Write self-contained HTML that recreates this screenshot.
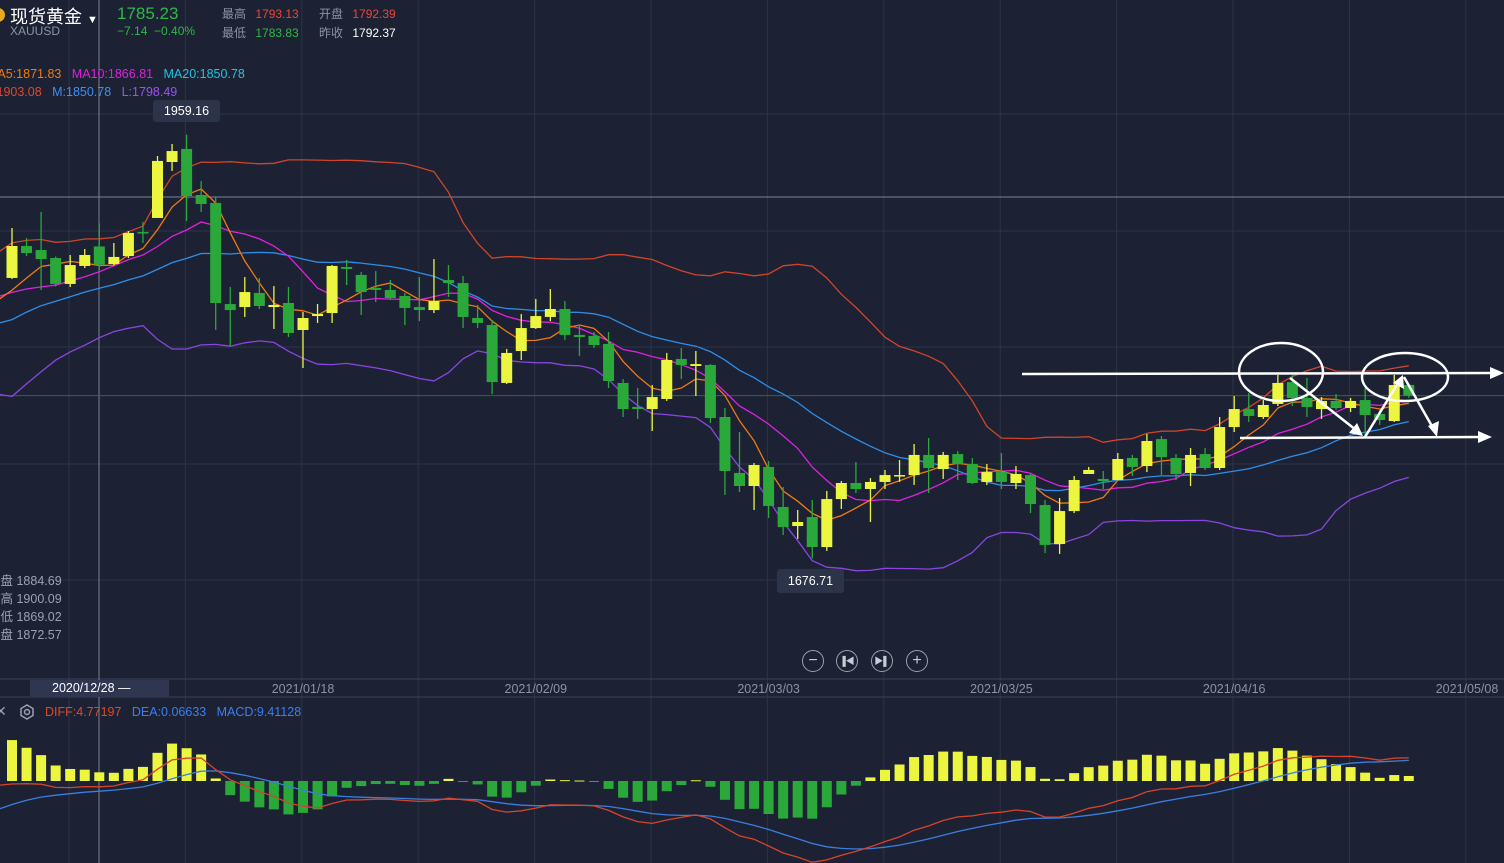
<!DOCTYPE html>
<html><head><meta charset="utf-8">
<style>
html,body{margin:0;padding:0;background:#1c2233;overflow:hidden}
body{width:1504px;height:863px;position:relative;font-family:"Liberation Sans","Noto Sans CJK SC",sans-serif}
.t{position:absolute;white-space:nowrap}
</style></head>
<body>
<svg id="chart" width="1504" height="863" style="position:absolute;left:0;top:0">
<g id="grid"></g>
<g id="price"></g>
<g id="macd"></g>
<g id="anno" stroke="#ffffff" fill="none" stroke-width="2.5">
 <line x1="1022" y1="374" x2="1494" y2="373"/><polygon points="1504,373 1490,367 1490,379" fill="#fff" stroke="none"/>
 <line x1="1240" y1="438" x2="1482" y2="437"/><polygon points="1492,437 1478,431 1478,443" fill="#fff" stroke="none"/>
 <ellipse cx="1281" cy="372" rx="42" ry="29"/>
 <ellipse cx="1405" cy="377" rx="43" ry="24"/>
 <line x1="1290" y1="378" x2="1356" y2="430"/><polygon points="1363,436 1349,433 1357,423" fill="#fff" stroke="none"/>
 <line x1="1365" y1="437" x2="1398" y2="383"/><polygon points="1403,375 1404,389 1393,383" fill="#fff" stroke="none"/>
 <line x1="1404" y1="377" x2="1433" y2="428"/><polygon points="1437,437 1428,426 1439,421" fill="#fff" stroke="none"/>
</g>
</svg>

<div class="t" style="left:-9px;top:8px;width:14px;height:14px;border-radius:50%;background:#e9a820"></div>
<div class="t" style="left:10px;top:3px;font-size:18px;color:#fff">现货黄金 <span style="font-size:11px">▼</span></div>
<div class="t" style="left:10px;top:24px;font-size:12px;color:#8b93a6">XAUUSD</div>
<div class="t" style="left:117px;top:4px;font-size:17px;color:#2fb845">1785.23</div>
<div class="t" style="left:117px;top:24px;font-size:12px;color:#2fb845">−7.14 &nbsp;−0.40%</div>
<div class="t" style="left:222px;top:5px;font-size:12px;color:#8b93a6">最高 <span style="color:#e8473a;margin-left:6px">1793.13</span></div>
<div class="t" style="left:319px;top:5px;font-size:12px;color:#8b93a6">开盘 <span style="color:#e8473a;margin-left:6px">1792.39</span></div>
<div class="t" style="left:222px;top:24px;font-size:12px;color:#8b93a6">最低 <span style="color:#2fb845;margin-left:6px">1783.83</span></div>
<div class="t" style="left:319px;top:24px;font-size:12px;color:#8b93a6">昨收 <span style="color:#fff;margin-left:6px">1792.37</span></div>

<div class="t" style="left:-13px;top:67px;font-size:12.5px">
 <span style="color:#f07a14">MA5:1871.83</span>&nbsp;&nbsp; <span style="color:#e020e0">MA10:1866.81</span>&nbsp;&nbsp; <span style="color:#22c4e0">MA20:1850.78</span></div>
<div class="t" style="left:-16px;top:85px;font-size:12.5px">
 <span style="color:#e0482c">U:1903.08</span>&nbsp;&nbsp; <span style="color:#3d8ef0">M:1850.78</span>&nbsp;&nbsp; <span style="color:#9a52f0">L:1798.49</span></div>

<div class="t" style="left:-12px;top:572px;font-size:12.5px;color:#9aa1b2;line-height:18px">开盘 1884.69<br>最高 1900.09<br>最低 1869.02<br>收盘 1872.57</div>

<div class="t" style="left:153px;top:100px;width:67px;height:22px;background:#2c3449;border-radius:3px;color:#fff;font-size:12.5px;text-align:center;line-height:22px">1959.16</div>
<div class="t" style="left:777px;top:569px;width:67px;height:24px;background:#2c3449;border-radius:3px;color:#fff;font-size:12.5px;text-align:center;line-height:24px">1676.71</div>

<div class="t" style="left:802px;top:650px;width:20px;height:20px;border:1px solid #9aa1b2;border-radius:50%;color:#c8ccd6;font-size:16px;text-align:center;line-height:19px">−</div>
<div class="t" style="left:836px;top:650px;width:20px;height:20px;border:1px solid #9aa1b2;border-radius:50%;color:#c8ccd6;font-size:9px;text-align:center;line-height:20px">▐◀</div>
<div class="t" style="left:871px;top:650px;width:20px;height:20px;border:1px solid #9aa1b2;border-radius:50%;color:#c8ccd6;font-size:9px;text-align:center;line-height:20px">▶▌</div>
<div class="t" style="left:906px;top:650px;width:20px;height:20px;border:1px solid #9aa1b2;border-radius:50%;color:#c8ccd6;font-size:16px;text-align:center;line-height:19px">+</div>

<div class="t" style="left:30px;top:680px;width:139px;height:17px;background:#2e3650"></div>
<div class="t" style="left:52px;top:681px;font-size:12.5px;color:#fff">2020/12/28 —</div>

<div class="t" style="left:-5px;top:703px;font-size:14px;color:#9aa1b2">✕</div>
<svg class="t" style="left:19px;top:704px" width="16" height="16"><polygon points="8,1 14,4.5 14,11.5 8,15 2,11.5 2,4.5" fill="none" stroke="#9aa1b2" stroke-width="1.5"/><circle cx="8" cy="8" r="2.5" fill="none" stroke="#9aa1b2" stroke-width="1.5"/></svg>
<div class="t" style="left:45px;top:705px;font-size:12.5px">
 <span style="color:#e0482c">DIFF:4.77197</span>&nbsp;&nbsp; <span style="color:#3d7ef0">DEA:0.06633</span>&nbsp;&nbsp; <span style="color:#3d7ef0">MACD:9.41128</span></div>

<script>
const opens  = [1863.7,1885,1882.3,1877,1859.7,1871.7,1884.69,1873,1878.3,1894.3,1903.7,1941,1949.7,1919,1913.7,1846.3,1844.3,1853.7,1844.3,1847,1829,1838.3,1840.3,1871,1865.7,1857,1855.7,1851.7,1844.3,1842.3,1862.3,1860.3,1837,1832.3,1793.7,1815,1830.3,1837.7,1843,1825.7,1825,1819.7,1793.7,1777.7,1776.3,1783,1809.7,1805,1805.7,1771,1733.7,1725,1737.7,1711,1698.3,1704.3,1684.3,1716.3,1727,1723,1727.7,1731.7,1732.3,1745.7,1736.3,1746.3,1739.7,1727.7,1734.3,1727,1732.3,1712.3,1686.3,1708.3,1733,1729.7,1729,1743.7,1738.3,1756.3,1743.7,1733.7,1746.3,1737,1764.3,1776.3,1771,1779.7,1794.3,1783.7,1776.3,1781.7,1777,1782.3,1773,1768.3,1792.39];
const highs  = [1897,1890.3,1907.7,1878,1879,1883,1900.09,1887,1895,1901,1945,1953,1959.16,1928.3,1917.7,1857.7,1864.3,1863.7,1858.3,1857.7,1841,1846.3,1872.3,1875.7,1867.7,1868.3,1862.3,1853.7,1864.3,1876.3,1872.3,1865,1845.7,1835.7,1816.3,1839.7,1849.7,1856.3,1848.3,1831.7,1827.7,1827.7,1796.3,1790.3,1792.3,1813.7,1817,1815,1806.3,1777,1761,1740.3,1741.7,1724.3,1709,1715.7,1721.7,1728.3,1741,1730.3,1735.7,1742.3,1753,1757,1747.7,1748.3,1743.7,1739.7,1747,1738.3,1733.7,1715.7,1717,1731.7,1737.7,1735,1747,1745.7,1759.7,1758.3,1746.3,1750.3,1750.3,1771,1785,1787,1782.3,1799,1799,1797,1784.3,1786.3,1783.7,1790.3,1775.7,1799,1793.13];
const lows   = [1863,1878.3,1855.7,1858,1857.7,1870.3,1869.02,1872.3,1877,1887,1903.7,1935,1901.7,1907.7,1829,1818.3,1837.7,1843,1829.7,1824.3,1803.7,1833.7,1833.7,1859,1839,1847.7,1849,1832.3,1835,1840.3,1851,1830.3,1830.3,1786.3,1793,1809,1829.7,1835,1822.3,1811.7,1817,1790.3,1771,1769.7,1761.7,1781.7,1796.3,1785,1767,1719,1721,1709,1703.7,1692.3,1689.7,1676.71,1681.7,1709.7,1720.3,1701,1723,1727.7,1725.7,1720.3,1729.7,1729,1726.3,1725.7,1723,1723,1707,1680.3,1679.7,1707,1733,1723,1729,1731.7,1734.3,1732.3,1729,1725,1735.7,1735.7,1761,1767.7,1769.7,1778.3,1778.3,1771,1769.7,1775.7,1774.3,1757.7,1765.7,1767.7,1783.83];
const closes = [1885,1880.3,1876.3,1859.7,1872.3,1879,1872.57,1877.7,1893.7,1893.7,1941.7,1948.3,1918.3,1913,1847,1842.3,1854.3,1845,1845.7,1827,1837,1839.7,1871.7,1869.7,1854.3,1855.7,1850.3,1843.7,1842.3,1848.3,1860.3,1837.7,1833.7,1794.3,1813.7,1830.3,1838.3,1843,1825.7,1824.3,1819,1795,1776.3,1776.3,1784.3,1809,1805.7,1806.3,1770.3,1735,1725,1739,1711.7,1697.7,1701,1684.3,1716.3,1727,1723,1727.7,1732.3,1732.3,1745.7,1737,1745.7,1739.7,1727,1734.3,1727.7,1733,1713,1685.7,1708.3,1729,1735.7,1728.3,1743,1737.7,1755,1744.3,1733,1745.7,1737,1764.3,1776.3,1771.7,1779,1793.7,1783.7,1777.7,1781.7,1777,1781.7,1772.3,1769,1792.3,1785.23];
// closes before the visible window (seed for MA / BOLL)
const priorCloses = [1780,1790,1800,1812,1818,1822,1828,1832,1840,1855,1858,1862,1848,1845,1850,1840,1838,1852,1863];
const dateLabels = ["2021/01/18","2021/02/09","2021/03/03","2021/03/25","2021/04/16","2021/05/08"];
const dateIdx = [20,36,52,68,84,100];
// MACD seed state before first visible bar
const macdSeed = [1879, 1881, -13]; // ema12, ema26, dea

const NS="http://www.w3.org/2000/svg";
function mk(tag,attrs,parent){const e=document.createElementNS(NS,tag);for(const k in attrs)e.setAttribute(k,attrs[k]);parent.appendChild(e);return e;}
const X = i => 12 + 14.55*i;
const Y = p => (2049 - p)*1.5;
const ZERO = 781, MK = 2.2;
const YM = v => ZERO - v*MK;

const grid=document.getElementById('grid');
[114,231,347,464,580].forEach(y=>{const l=mk('line',{x1:0,x2:1504,y1:y,y2:y,stroke:'#2d3447','stroke-width':1},grid);

});
for(let k=0;k<13;k++){const x=69+116.4*k;const l=mk('line',{x1:x,x2:x,y1:0,y2:863,stroke:'#2d3447','stroke-width':1},grid);

}
[679,697].forEach(y=>{const l=mk('line',{x1:0,x2:1504,y1:y,y2:y,stroke:'#3a4157','stroke-width':1},grid);

});
const ch=mk('line',{x1:99,x2:99,y1:0,y2:863,stroke:'#7c8396','stroke-width':1},grid);


const chh=mk('line',{x1:0,x2:1504,y1:197,y2:197,stroke:'#7c8396','stroke-width':1},grid);


const pl=mk('line',{x1:0,x2:1504,y1:Y(closes[closes.length-1]),y2:Y(closes[closes.length-1]),stroke:'#2e6a3a','stroke-width':1},grid);


dateLabels.forEach((d,j)=>{const t=mk('text',{x:X(dateIdx[j]),y:693,'text-anchor':'middle','font-size':12.5,fill:'#8b93a6','font-family':'Liberation Sans, sans-serif'},grid);t.textContent=d;

});

// indicators
const all = priorCloses.concat(closes), P = priorCloses.length;
function ma(n,i){let s=0,c=0;for(let k=i+P-n+1;k<=i+P;k++){if(k>=0){s+=all[k];c++;}}return s/c;}
function sd(i){const m=ma(20,i);let s=0,c=0;for(let k=i+P-19;k<=i+P;k++){if(k>=0){s+=(all[k]-m)**2;c++;}}return Math.sqrt(s/c);}
function line(fn,color,name,g,yf,start){let d='';for(let i=start;i<closes.length;i++){d+=(i>start?'L':'M')+X(i).toFixed(1)+','+yf(fn(i)).toFixed(1);}
const p=mk('path',{d:d,fill:'none',stroke:color,'stroke-width':1.3},g);

}
const pg=document.getElementById('price');
line(i=>ma(20,i)+2*sd(i),'#d0452a','boll-upper',pg,Y,-1);
line(i=>ma(20,i)-2*sd(i),'#8a45e0','boll-lower',pg,Y,-1);
line(i=>ma(20,i),'#2e8ee8','ma20-line',pg,Y,-1);
line(i=>ma(10,i),'#e020e0','ma10-line',pg,Y,-1);
line(i=>ma(5,i),'#f07a10','ma5-line',pg,Y,-1);

for(let i=0;i<closes.length;i++){
 const up=closes[i]>=opens[i], col=up?'#ecf53f':'#2aa83a', x=X(i);
 const w=mk('line',{x1:x,x2:x,y1:Y(highs[i]),y2:Y(lows[i]),stroke:col,'stroke-width':1.3},pg);
 
 
 const top=Y(Math.max(opens[i],closes[i])), h=Math.max(1.5,Math.abs(Y(opens[i])-Y(closes[i])));
 const b=mk('rect',{x:x-5.5,y:top,width:11,height:h,fill:col},pg);
 
 
}

// MACD
const mg=document.getElementById('macd');
let e12=macdSeed[0],e26=macdSeed[1],dea=macdSeed[2];const DIFF=[],DEA=[],HIST=[];
const D0=e12-e26, E0=dea;
for(let i=0;i<closes.length;i++){e12+=(closes[i]-e12)*2/13;e26+=(closes[i]-e26)*2/27;const df=e12-e26;dea+=(df-dea)*0.2;DIFF.push(df);DEA.push(dea);HIST.push(2*(df-dea));}
for(let i=0;i<closes.length;i++){const v=HIST[i],col=v>=0?'#ecf53f':'#2aa83a';
 const r=mk('rect',{x:X(i)-5,y:Math.min(ZERO,YM(v)),width:10,height:Math.max(1,Math.abs(v*MK)),fill:col},mg);
 
 }
line(i=>i<0?E0:DEA[i],'#3a7ee0','dea-line',mg,YM,-1);
line(i=>i<0?D0:DIFF[i],'#d8432a','diff-line',mg,YM,-1);
</script>
</body></html>
